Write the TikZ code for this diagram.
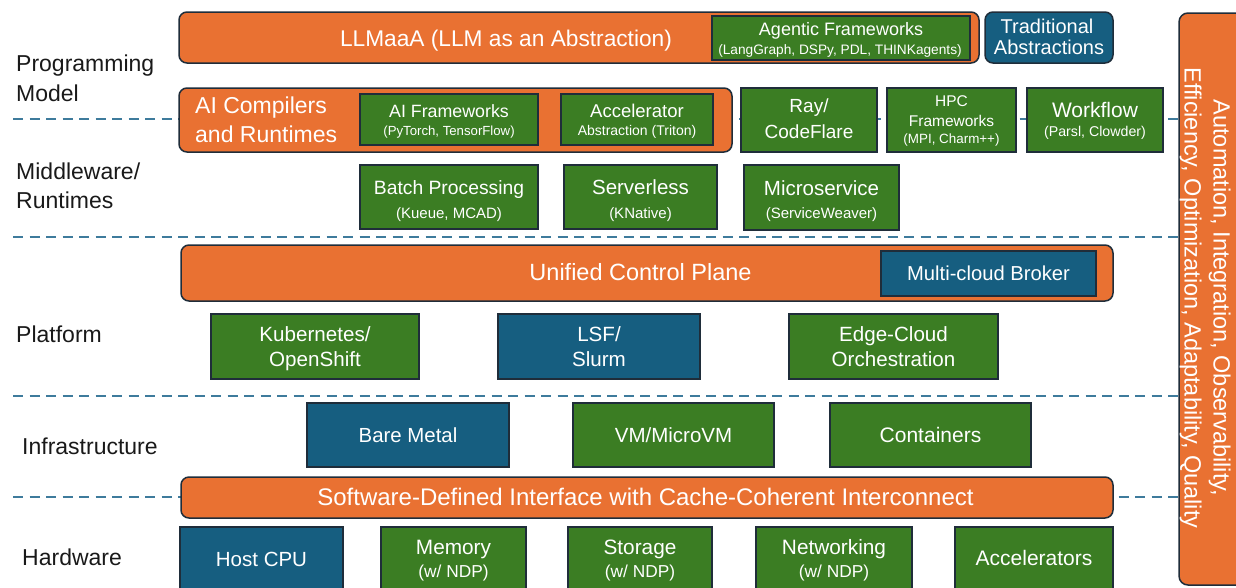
\documentclass[tikz,border=0pt]{standalone}
\usepackage{fontspec}
\setmainfont{Liberation Sans}
\newcommand\fsz[1]{\fontsize{#1}{#1}\selectfont}
\definecolor{orng}{HTML}{E97132}
\definecolor{grn}{HTML}{3B7D23}
\definecolor{blu}{HTML}{165E80}
\definecolor{outl}{HTML}{1F2D3A}
\definecolor{sepc}{HTML}{3E7B9C}
\tikzset{
  box/.style={draw=outl, line width=1.5pt, inner sep=0pt, anchor=center},
  ob/.style={box, fill=orng, rounded corners=8pt},
  gb/.style={box, fill=grn},
  bb/.style={box, fill=blu},
  bbr/.style={bb, rounded corners=8pt},
  wt/.style={text=white, inner sep=0pt, anchor=base},
  lab/.style={text=black!90, inner sep=0pt, anchor=base west, font=\fsz{23}},
  sepline/.style={draw=sepc, line width=2pt, dash pattern=on 10pt off 6.5pt},
}
\begin{document}
\begin{tikzpicture}[x=1pt,y=-1pt]
\useasboundingbox (0,0) rectangle (1236,587);

% right vertical bar
\node[ob, rounded corners=9pt, minimum width=80pt, minimum height=572pt] (bar) at (1219,299) {};

% dashed separators
\coordinate (s1) at (13,119);
\coordinate (s2) at (13,237);
\coordinate (s3) at (13,396);
\coordinate (s4) at (13,497);
\foreach \s in {s1,s2,s3,s4} \draw[sepline] (\s) -- (\s -| bar.west);

% left layer labels
\node[lab] (prog1) at (16,71) {Programming};
\node[lab] (prog2) at (16,101) {Model};
\node[lab] (mid1) at (16,179.5) {Middleware/};
\node[lab] (mid2) at (16,208) {Runtimes};
\node[lab] (plat) at (16,342) {Platform};
\node[lab] (infra) at (22,454.5) {Infrastructure};
\node[lab] (hw) at (22,565.5) {Hardware};

% row 1
\node[ob, minimum width=800pt, minimum height=51pt] (llm) at (579,37.5) {};
\node[gb, minimum width=258pt, minimum height=44pt] (agentic) at (841,38) {};
\node[bbr, minimum width=128pt, minimum height=51pt] (trad) at (1049,37.5) {};
\node[wt, font=\fsz{22.7}] (llmt) at (506,46) {LLMaaA (LLM as an Abstraction)};
\node[wt, font=\fsz{18}] (agt1) at (841,35.2) {Agentic Frameworks};
\node[wt, font=\fsz{13.7}] (agt2) at (840,54) {(LangGraph, DSPy, PDL, THINKagents)};
\node[wt, font=\fsz{20}] (trad1) at (1047,33.5) {Traditional};
\node[wt, font=\fsz{20}] (trad2) at (1049,54.5) {Abstractions};

% row 2
\node[ob, minimum width=553pt, minimum height=64pt] (aicomp) at (455.5,120) {};
\node[gb, minimum width=178pt, minimum height=51pt] (aifw) at (449,119.5) {};
\node[gb, minimum width=152pt, minimum height=51pt] (accel) at (637,119.5) {};
\node[gb, minimum width=136pt, minimum height=64pt] (ray) at (809,120) {};
\node[gb, minimum width=129pt, minimum height=64pt] (hpc) at (951.5,120) {};
\node[gb, minimum width=136pt, minimum height=64pt] (wf) at (1095,120) {};
\node[wt, anchor=base west, font=\fsz{23}] (aic1) at (195,113) {AI Compilers};
\node[wt, anchor=base west, font=\fsz{23}] (aic2) at (195,142) {and Runtimes};
\node[wt, font=\fsz{17.8}] (aifw1) at (449,117) {AI Frameworks};
\node[wt, font=\fsz{13.2}] (aifw2) at (449,135) {(PyTorch, TensorFlow)};
\node[wt, font=\fsz{18.5}] (acc1) at (637,117) {Accelerator};
\node[wt, font=\fsz{14}] (acc2) at (637,135) {Abstraction (Triton)};
\node[wt, font=\fsz{19}] (ray1) at (809,112.5) {Ray/};
\node[wt, font=\fsz{19}] (ray2) at (809,138) {CodeFlare};
\node[wt, font=\fsz{15.5}] (hpc1) at (951.5,106.5) {HPC};
\node[wt, font=\fsz{15.5}] (hpc2) at (951.5,126.5) {Frameworks};
\node[wt, font=\fsz{13.4}] (hpc3) at (951.5,143.5) {(MPI, Charm++)};
\node[wt, font=\fsz{21}] (wf1) at (1095,117.5) {Workflow};
\node[wt, font=\fsz{14.2}] (wf2) at (1095,136.5) {(Parsl, Clowder)};

% row 3
\node[gb, minimum width=178pt, minimum height=64pt] (batch) at (449,197) {};
\node[gb, minimum width=153pt, minimum height=64pt] (srv) at (640.5,197) {};
\node[gb, minimum width=155pt, minimum height=65pt] (mic) at (821.5,197.5) {};
\node[wt, font=\fsz{19.3}] (batch1) at (449,194) {Batch Processing};
\node[wt, font=\fsz{15}] (batch2) at (449,218.5) {(Kueue, MCAD)};
\node[wt, font=\fsz{20.5}] (srv1) at (640.5,194) {Serverless};
\node[wt, font=\fsz{15}] (srv2) at (640.5,218.5) {(KNative)};
\node[wt, font=\fsz{20.5}] (mic1) at (821.5,195) {Microservice};
\node[wt, font=\fsz{15}] (mic2) at (821.5,218) {(ServiceWeaver)};

% row 4
\node[ob, minimum width=932pt, minimum height=56pt] (ucp) at (647,273) {};
\node[bb, minimum width=215pt, minimum height=45pt] (broker) at (988.5,273.5) {};
\node[wt, font=\fsz{23.5}] (ucpt) at (640.5,280) {Unified Control Plane};
\node[wt, font=\fsz{20.2}] (brkt) at (988.5,280) {Multi-cloud Broker};

% row 5
\node[gb, minimum width=208pt, minimum height=65pt] (k8s) at (315,346.5) {};
\node[bb, minimum width=202pt, minimum height=65pt] (lsf) at (599,346.5) {};
\node[gb, minimum width=209pt, minimum height=65pt] (edgec) at (893.5,346.5) {};
\node[wt, font=\fsz{20.6}] (k8s1) at (315,341) {Kubernetes/};
\node[wt, font=\fsz{20.6}] (k8s2) at (315,366) {OpenShift};
\node[wt, font=\fsz{20.6}] (lsf1) at (599,341) {LSF/};
\node[wt, font=\fsz{20.6}] (lsf2) at (599,366) {Slurm};
\node[wt, font=\fsz{20.6}] (edg1) at (893.5,341) {Edge-Cloud};
\node[wt, font=\fsz{20.6}] (edg2) at (893.5,366) {Orchestration};

% row 6
\node[bb, minimum width=202pt, minimum height=64pt] (bare) at (408,435) {};
\node[gb, minimum width=201pt, minimum height=64pt] (vm) at (673.5,435) {};
\node[gb, minimum width=201pt, minimum height=64pt] (cont) at (930.5,435) {};
\node[wt, font=\fsz{20.4}] (baret) at (408,442) {Bare Metal};
\node[wt, font=\fsz{20.5}] (vmt) at (673.5,442) {VM/MicroVM};
\node[wt, font=\fsz{21}] (contt) at (930.5,442) {Containers};

% row 7
\node[ob, minimum width=932pt, minimum height=41pt] (sdi) at (647,497.5) {};
\node[wt, font=\fsz{24}] (sdit) at (645.5,505) {Software-Defined Interface with Cache-Coherent Interconnect};

% row 8
\node[bb, minimum width=163pt, minimum height=74pt] (host) at (261.5,564) {};
\node[gb, minimum width=145pt, minimum height=74pt] (mem) at (453.5,564) {};
\node[gb, minimum width=144pt, minimum height=74pt] (stor) at (640,564) {};
\node[gb, minimum width=156pt, minimum height=74pt] (net) at (834,564) {};
\node[gb, minimum width=158pt, minimum height=74pt] (acc) at (1034,564) {};
\node[wt, font=\fsz{20.5}] (hostt) at (261.5,566) {Host CPU};
\node[wt, font=\fsz{20.8}] (mem1) at (453.5,554) {Memory};
\node[wt, font=\fsz{17.3}] (mem2) at (453.5,577) {(w/ NDP)};
\node[wt, font=\fsz{20.8}] (stor1) at (640,554) {Storage};
\node[wt, font=\fsz{17.3}] (stor2) at (640,577) {(w/ NDP)};
\node[wt, font=\fsz{20.8}] (net1) at (834,554) {Networking};
\node[wt, font=\fsz{17.3}] (net2) at (834,577) {(w/ NDP)};
\node[wt, font=\fsz{21}] (acct) at (1034,565) {Accelerators};

% bar text
\node[wt, rotate=-90, font=\fsz{23.5}] (bar1) at (1213.6,298) {Automation, Integration, Observability,};
\node[wt, rotate=-90, font=\fsz{23.5}] (bar2) at (1184.6,298) {Efficiency, Optimization, Adaptability, Quality};
\end{tikzpicture}
\end{document}
